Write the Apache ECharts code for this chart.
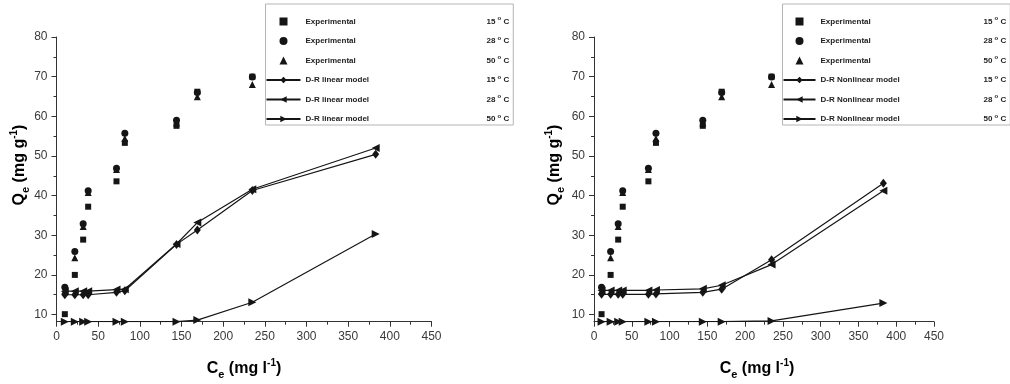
<!DOCTYPE html>
<html><head><meta charset="utf-8">
<script src="https://cdn.jsdelivr.net/npm/echarts@6/dist/echarts.min.js"></script>
<style>html,body{margin:0;padding:0;background:#fff}#c{width:1010px;height:384px}</style>
</head><body><div id="c"></div>
<script>
// Ce (mg/l) values
const ceModel = [10, 22, 32, 38, 72, 82, 144, 169, 235, 383];
const ceExp = [10, 22, 32, 38, 72, 82, 144, 169, 235];
// Experimental Qe (mg/g)
const exp15 = [10.1, 20.0, 28.9, 37.2, 43.6, 53.3, 57.6, 66.2, 70.0];
const exp28 = [16.9, 25.9, 32.9, 41.2, 46.9, 55.7, 59.0, 66.0, 69.9];
const exp50 = [16.0, 24.3, 32.2, 40.8, 46.6, 54.4, 58.3, 64.9, 68.0];
// D-R linear model
const lin15 = [15.0, 15.0, 15.0, 15.0, 15.6, 16.0, 27.7, 31.3, 41.3, 50.4];
const lin28 = [15.9, 15.9, 15.9, 15.9, 16.3, 16.4, 27.8, 33.2, 41.6, 52.0];
const lin50 = [8.2, 8.2, 8.2, 8.2, 8.2, 8.2, 8.2, 8.6, 13.1, 30.3];
// D-R nonlinear model
const nl15 = [15.1, 15.1, 15.1, 15.1, 15.1, 15.2, 15.6, 16.4, 23.8, 43.1];
const nl28 = [16.1, 16.1, 16.1, 16.1, 16.1, 16.2, 16.5, 17.4, 22.6, 41.2];
const nl50 = [8.2, 8.2, 8.2, 8.2, 8.2, 8.2, 8.2, 8.2, 8.4, 12.9];
// axis ticks
const xTicks = [0, 50, 100, 150, 200, 250, 300, 350, 400, 450];
const yMajor = [10, 20, 30, 40, 50, 60, 70, 80];
const yMinor = [15, 25, 35, 45, 55, 65, 75];
const temps = ['15', '28', '50'];

const INK = '#151515';
const AX = '#333';
const pairs = (xs, ys) => xs.map((x, i) => [x, ys[i]]);

const chart = echarts.init(document.getElementById('c'), null, {renderer: 'canvas'});

function xAxisFor(g) {
  return {
    gridIndex: g, type: 'value', min: 0, max: 450, interval: 50,
    axisLine: {show: true, lineStyle: {color: AX, width: 1}},
    axisTick: {show: true, length: 5, lineStyle: {color: AX}},
    minorTick: {show: true, splitNumber: 2, length: 3, lineStyle: {color: AX}},
    splitLine: {show: false}, minorSplitLine: {show: false},
    axisLabel: {color: '#3a3a3a', fontSize: 12, fontFamily: 'Liberation Sans, Arial', margin: 9,
      customValues: xTicks}
  };
}
function yAxesFor(g) {
  return [{
    gridIndex: g, type: 'value', min: 8.2, max: 80,
    axisLine: {show: true, lineStyle: {color: AX, width: 1}},
    axisTick: {show: true, length: 5, lineStyle: {color: AX}, customValues: yMajor},
    axisLabel: {color: '#3a3a3a', fontSize: 12, fontFamily: 'Liberation Sans, Arial', margin: 9, customValues: yMajor},
    splitLine: {show: false}
  }, {
    gridIndex: g, type: 'value', min: 8.2, max: 80, position: 'left',
    axisLine: {show: false},
    axisTick: {show: true, length: 3, lineStyle: {color: AX}, customValues: yMinor},
    axisLabel: {show: false},
    splitLine: {show: false}
  }];
}

const expSymbols = ['rect', 'circle', 'triangle'];
const expIcons = ['path://M0,0L10,0L10,10L0,10Z', 'circle', 'path://M5,0L10,10L0,10Z'];
const expSizes = [6, 7, 7];
const modSymbols = ['diamond', 'triangle', 'triangle'];
const modRot = [0, 90, -90];
const modSizes = [[7, 9], 8, 8];

function seriesFor(panel, g, modelName, modelData) {
  const out = [];
  const expData = [exp15, exp28, exp50];
  temps.forEach((t, i) => {
    out.push({
      name: panel + '|Experimental|' + t, type: 'scatter',
      xAxisIndex: g, yAxisIndex: g * 2,
      symbol: expSymbols[i], symbolSize: expSizes[i],
      itemStyle: {color: INK, opacity: 1},
      data: pairs(ceExp, expData[i]), z: 3
    });
  });
  temps.forEach((t, i) => {
    out.push({
      name: panel + '|' + modelName + '|' + t, type: 'line',
      xAxisIndex: g, yAxisIndex: g * 2,
      symbol: modSymbols[i], symbolSize: modSizes[i], symbolRotate: modRot[i],
      showAllSymbol: true,
      itemStyle: {color: INK, opacity: 1}, lineStyle: {color: INK, width: 1.2},
      data: pairs(ceModel, modelData[i]), z: 4
    });
  });
  return out;
}

const rich = {
  a: {fontSize: 8, fontWeight: 'bold', color: '#222', fontFamily: 'Liberation Sans, Arial', lineHeight: 12},
  b: {fontSize: 8, fontWeight: 'bold', color: '#222', fontFamily: 'Liberation Sans, Arial', lineHeight: 12},
  s: {fontSize: 6, fontWeight: 'bold', color: '#222', fontFamily: 'Liberation Sans, Arial', verticalAlign: 'top', lineHeight: 12}
};

function legendFor(panel, modelName, left, aWidth, itemW) {
  const data = [];
  temps.forEach((t, i) => data.push({name: panel + '|Experimental|' + t, icon: expIcons[i]}));
  temps.forEach(t => data.push({name: panel + '|' + modelName + '|' + t}));
  const r = JSON.parse(JSON.stringify(rich));
  r.a.width = aWidth;
  return {
    orient: 'vertical', left: left, top: 4,
    data: data,
    backgroundColor: '#fff', borderColor: '#b5b5b5', borderWidth: 1, borderRadius: 0,
    padding: [11.5, 4, 0, 0],
    itemWidth: itemW, itemHeight: 8, itemGap: 7.5,
    symbolKeepAspect: true,
    selectedMode: false,
    textStyle: {rich: r, lineHeight: 12},
    formatter: n => {
      const p = n.split('|');
      return '{a|' + p[1] + '}{b|' + p[2] + ' }{s|o}{b| C}';
    }
  };
}

const option = {
  backgroundColor: '#fff',
  animation: false,
  grid: [
    {left: 56.5, top: 37, width: 375, height: 284.7},
    {left: 594, top: 37, width: 340, height: 284.7}
  ],
  xAxis: [xAxisFor(0), xAxisFor(1)],
  yAxis: yAxesFor(0).concat(yAxesFor(1)),
  legend: [
    legendFor('L', 'D-R linear model', 265.5, 181, 34),
    legendFor('R', 'D-R Nonlinear model', 782.5, 163, 32)
  ],
  series: seriesFor('L', 0, 'D-R linear model', [lin15, lin28, lin50])
    .concat(seriesFor('R', 1, 'D-R Nonlinear model', [nl15, nl28, nl50])),
  graphic: []
};

const titleRich = {
  m: {fontSize: 16, fontWeight: 'bold', color: '#222', fontFamily: 'Liberation Sans, Arial', lineHeight: 22},
  sub: {fontSize: 11, fontWeight: 'bold', color: '#222', fontFamily: 'Liberation Sans, Arial', verticalAlign: 'bottom', lineHeight: 22},
  sup: {fontSize: 10, fontWeight: 'bold', color: '#222', fontFamily: 'Liberation Sans, Arial', verticalAlign: 'top', lineHeight: 22}
};
const yTitle = '{m|Q}{sub|e}{m| (mg g}{sup|-1}{m|)}';
const xTitle = '{m|C}{sub|e}{m| (mg l}{sup|-1}{m|)}';
[[20, 165], [555, 165]].forEach(p => option.graphic.push({
  type: 'text', x: p[0], y: p[1], rotation: Math.PI / 2,
  style: {text: yTitle, rich: titleRich, align: 'center', verticalAlign: 'middle'}
}));
[[244, 369], [757, 369]].forEach(p => option.graphic.push({
  type: 'text', x: p[0], y: p[1],
  style: {text: xTitle, rich: titleRich, align: 'center', verticalAlign: 'middle'}
}));

chart.setOption(option);
</script>
</body></html>
